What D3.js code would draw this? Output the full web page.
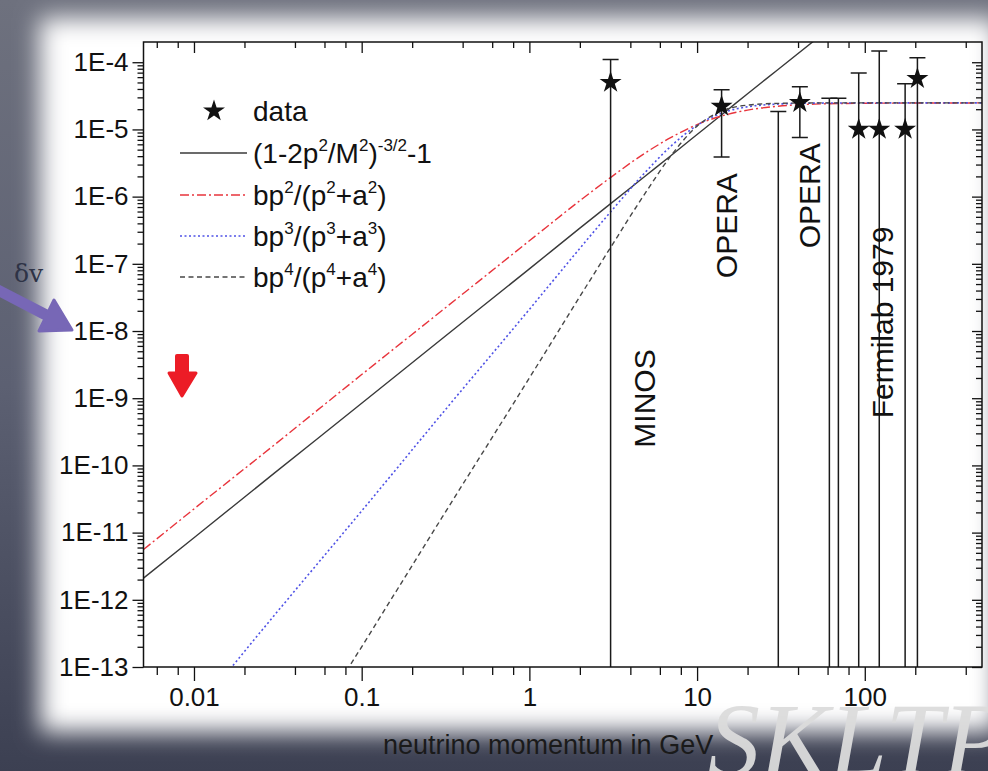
<!DOCTYPE html>
<html>
<head>
<meta charset="utf-8">
<script src="https://cdn.jsdelivr.net/npm/d3@7"></script>
<style>
  body { margin: 0; background: #5a5e6e; }
  svg { display: block; font-family: "Liberation Sans", Arial, sans-serif; }
</style>
</head>
<body>
<div id="chart"></div>
<script>
// curves: momentum (GeV) -> delta v
const momentum = [0.005, 0.01, 0.03, 0.1, 0.3, 1, 2, 3, 5, 7, 10, 15, 20, 30, 50, 100, 200, 500];
const lorentzCurve = [2.1e-12, 8.4e-12, 7.6e-11, 8.4e-10, 7.6e-9, 8.4e-8, 3.4e-7, 7.6e-7, 2.1e-6, 4.1e-6, 8.4e-6, 1.9e-5, 3.4e-5, 7.6e-5, 2.1e-4, 8.4e-4, 3.4e-3, 2.1e-2];
const fitP2 = [5.6e-12, 2.25e-11, 2.0e-10, 2.25e-9, 2.0e-8, 2.2e-7, 8.7e-7, 1.87e-6, 4.6e-6, 7.6e-6, 1.18e-5, 1.66e-5, 1.94e-5, 2.21e-5, 2.38e-5, 2.45e-5, 2.47e-5, 2.48e-5];
const fitP3 = [2.7e-15, 2.1e-14, 5.8e-13, 2.1e-11, 5.8e-10, 2.1e-8, 1.7e-7, 5.65e-7, 2.42e-6, 5.67e-6, 1.15e-5, 1.85e-5, 2.17e-5, 2.38e-5, 2.46e-5, 2.48e-5, 2.48e-5, 2.48e-5];
const fitP4 = [1.3e-18, 2.0e-17, 1.65e-15, 2.0e-13, 1.65e-11, 2.0e-9, 3.26e-8, 1.64e-7, 1.21e-6, 4.09e-6, 1.12e-5, 2.0e-5, 2.3e-5, 2.44e-5, 2.48e-5, 2.48e-5, 2.48e-5, 2.48e-5];

// measurements (null lower = bar runs off the bottom of the plot)
const dataMomentum = [3.05, 14, 41, 92, 122, 174, 206];
const dataDv = [5.0e-5, 2.2e-5, 2.5e-5, 1.0e-5, 1.0e-5, 1.0e-5, 5.7e-5];
const dataUpper = [1.1e-4, 3.9e-5, 4.3e-5, 6.9e-5, 1.47e-4, 4.8e-5, 1.17e-4];
const dataLower = [null, 3.9e-6, 7.6e-6, null, null, null, null];
// bars with no visible point
const limitMomentum = [30.5, 61.5, 69.6];
const limitUpper = [1.85e-5, 2.92e-5, 2.92e-5];

const xMajor = [0.01, 0.1, 1, 10, 100];
const xLabels = ["0.01", "0.1", "1", "10", "100"];
const yMajor = [1e-13, 1e-12, 1e-11, 1e-10, 1e-9, 1e-8, 1e-7, 1e-6, 1e-5, 1e-4];
const yLabels = ["1E-13", "1E-12", "1E-11", "1E-10", "1E-9", "1E-8", "1E-7", "1E-6", "1E-5", "1E-4"];

const expLabels = ["MINOS", "OPERA", "OPERA", "Fermilab 1979"];
const expMomentum = [5.6, 17.4, 54, 148];
const expDv = [9.9e-10, 3.7e-7, 1.03e-6, 1.34e-8];

// legend text pieces: [text, superscript?]
const legendLabels = [
    [["data", 0]],
    [["(1-2p", 0], ["2", 1], ["/M", 0], ["2", 1], [")", 0], ["-3/2", 1], ["-1", 0]],
    [["bp", 0], ["2", 1], ["/(p", 0], ["2", 1], ["+a", 0], ["2", 1], [")", 0]],
    [["bp", 0], ["3", 1], ["/(p", 0], ["3", 1], ["+a", 0], ["3", 1], [")", 0]],
    [["bp", 0], ["4", 1], ["/(p", 0], ["4", 1], ["+a", 0], ["4", 1], [")", 0]]
];

const W = 988, H = 771;
const margin = { top: 42, right: 6, bottom: 104, left: 143.5 };

const svg = d3.select('#chart').append('svg')
    .attr('width', W).attr('height', H);

// slide background
const defs = svg.append('defs');
defs.append('filter').attr('id', 'soft').attr('x', '-10%').attr('y', '-10%')
    .attr('width', '120%').attr('height', '120%')
    .append('feGaussianBlur').attr('stdDeviation', 12);
const bg = defs.append('linearGradient').attr('id', 'bg').attr('x1', 0).attr('y1', 0).attr('x2', 0).attr('y2', 1);
bg.append('stop').attr('offset', 0).attr('stop-color', '#6e717e');
bg.append('stop').attr('offset', 0.5).attr('stop-color', '#5c6072');
bg.append('stop').attr('offset', 1).attr('stop-color', '#3c4052');
svg.append('rect').attr('width', W).attr('height', H).attr('fill', 'url(#bg)');
svg.append('rect').attr('x', 40).attr('y', 18).attr('width', 958).attr('height', 714)
    .attr('fill', '#ffffff').attr('filter', 'url(#soft)');

const x = d3.scaleLog().domain([0.005, 500]).range([margin.left, W - margin.right]);
const y = d3.scaleLog().domain([1e-13, 2e-4]).range([H - margin.bottom, margin.top]);

const x0 = x.range()[0], x1 = x.range()[1], y0 = y.range()[0], y1 = y.range()[1];

const xMinor = [];
[0.001, 0.01, 0.1, 1, 10, 100].forEach(d => [2, 4, 6, 8].forEach(k => {
    const v = d * k;
    if (v > 0.005 && v < 500) xMinor.push(v);
}));
const yMinor = [];
yMajor.concat([1e-14]).forEach(d => d3.range(2, 10).forEach(k => {
    const v = d * k;
    if (v > 1e-13 && v < 2e-4) yMinor.push(v);
}));

const axes = svg.append('g').attr('class', 'axes');
const fmt = (labels, majors) => d => labels[majors.indexOf(d)];

axes.append('g').attr('transform', `translate(0,${y0})`)
    .call(d3.axisBottom(x).tickValues(xMajor).tickFormat(fmt(xLabels, xMajor)).tickSize(14).tickPadding(7));
axes.append('g').attr('transform', `translate(0,${y0})`)
    .call(d3.axisBottom(x).tickValues(xMinor).tickFormat('').tickSize(8));
axes.append('g').attr('transform', `translate(0,${y1})`)
    .call(d3.axisBottom(x).tickValues(xMajor).tickFormat('').tickSize(11));
axes.append('g').attr('transform', `translate(0,${y1})`)
    .call(d3.axisBottom(x).tickValues(xMinor).tickFormat('').tickSize(6));
axes.append('g').attr('transform', `translate(${x0},0)`)
    .call(d3.axisLeft(y).tickValues(yMajor).tickFormat(fmt(yLabels, yMajor)).tickSize(11).tickPadding(4));
axes.append('g').attr('transform', `translate(${x0},0)`)
    .call(d3.axisLeft(y).tickValues(yMinor).tickFormat('').tickSize(6));
axes.append('g').attr('transform', `translate(${x1},0)`)
    .call(d3.axisLeft(y).tickValues(yMajor).tickFormat('').tickSize(10));
axes.append('g').attr('transform', `translate(${x1},0)`)
    .call(d3.axisLeft(y).tickValues(yMinor).tickFormat('').tickSize(6));

axes.selectAll('.domain').remove();
axes.selectAll('.tick line').attr('stroke', '#111').attr('stroke-width', 1.3);
axes.selectAll('.tick text').attr('font-size', 26).attr('fill', '#111')
    .attr('font-family', '"Liberation Sans", Arial, sans-serif');

// plot content
defs.append('clipPath').attr('id', 'plot').append('rect')
    .attr('x', x0).attr('y', y1).attr('width', x1 - x0).attr('height', y0 - y1);
const chartArea = svg.append('g').attr('clip-path', 'url(#plot)');

const curves = [
    { values: lorentzCurve, color: '#3a3a3a', dash: null, width: 1.4 },
    { values: fitP2, color: '#e8343c', dash: '9,3,2,3', width: 1.4 },
    { values: fitP3, color: '#4f52e6', dash: '2,2.5', width: 1.6 },
    { values: fitP4, color: '#474747', dash: '5,3.5', width: 1.4 }
];
const line = d3.line().x(d => x(d[0])).y(d => y(d[1])).curve(d3.curveMonotoneX);

chartArea.selectAll('path.curve').data(curves).join('path')
    .attr('class', 'curve')
    .attr('fill', 'none')
    .attr('stroke', d => d.color)
    .attr('stroke-width', d => d.width)
    .attr('stroke-dasharray', d => d.dash)
    .attr('d', d => line(momentum.map((p, i) => [p, d.values[i]])));

// error bars
const bars = dataMomentum.map((p, i) => ({ p: p, up: dataUpper[i], low: dataLower[i] }))
    .concat(limitMomentum.map((p, i) => ({ p: p, up: limitUpper[i], low: null })));
const capW = 8;
const barG = chartArea.append('g').attr('stroke', '#1a1a1a').attr('stroke-width', 1.5);
bars.forEach(b => {
    const bx = x(b.p);
    const top = y(b.up);
    const bottom = b.low === null ? y0 + 2 : y(b.low);
    barG.append('line').attr('x1', bx).attr('x2', bx).attr('y1', top).attr('y2', bottom);
    barG.append('line').attr('x1', bx - capW).attr('x2', bx + capW).attr('y1', top).attr('y2', top);
    if (b.low !== null)
        barG.append('line').attr('x1', bx - capW).attr('x2', bx + capW).attr('y1', bottom).attr('y2', bottom);
});

const star = d3.symbol().type(d3.symbolStar).size(150);
chartArea.selectAll('path.star').data(dataMomentum).join('path')
    .attr('class', 'star')
    .attr('d', star)
    .attr('fill', '#111')
    .attr('transform', (d, i) => `translate(${x(d)},${y(dataDv[i])})`);

// frame
svg.append('rect').attr('x', x0).attr('y', y1).attr('width', x1 - x0).attr('height', y0 - y1)
    .attr('fill', 'none').attr('stroke', '#111').attr('stroke-width', 1.5);

// experiment labels
svg.selectAll('text.exp').data(expLabels).join('text')
    .attr('class', 'exp')
    .attr('text-anchor', 'middle')
    .attr('font-size', 30)
    .attr('fill', '#111')
    .attr('transform', (d, i) => `translate(${x(expMomentum[i])},${y(expDv[i])}) rotate(-90)`)
    .text(d => d);

// legend
const legend = svg.append('g').attr('class', 'legend');
const rowY = [111, 153, 195, 236, 277];
legend.append('path').attr('d', star).attr('fill', '#111')
    .attr('transform', `translate(214,${rowY[0]})`);
curves.forEach((c, i) => {
    legend.append('line')
        .attr('x1', 180).attr('x2', 247)
        .attr('y1', rowY[i + 1]).attr('y2', rowY[i + 1])
        .attr('stroke', c.color).attr('stroke-width', c.width)
        .attr('stroke-dasharray', c.dash);
});
legendLabels.forEach((parts, i) => {
    const t = legend.append('text')
        .attr('x', 253).attr('y', rowY[i] + 10)
        .attr('font-size', 28).attr('fill', '#111');
    let raised = false;
    parts.forEach(([s, sup]) => {
        const ts = t.append('tspan').text(s);
        if (sup && !raised) { ts.attr('dy', -12).attr('font-size', 17); raised = true; }
        else if (sup) { ts.attr('font-size', 17); }
        else if (raised) { ts.attr('dy', 12); raised = false; }
    });
});

// axis title (its end sits under the watermark, as in the slide)
svg.append('text').attr('x', 383).attr('y', 754)
    .attr('font-size', 27).attr('fill', '#1a1a1a')
    .text('neutrino momentum in GeV');

// slide decorations
svg.append('text').attr('x', 14).attr('y', 282)
    .attr('font-size', 25).attr('fill', '#2e3346')
    .attr('font-family', '"DejaVu Serif", serif')
    .text('δv');
svg.append('line').attr('x1', -4).attr('y1', 289).attr('x2', 48).attr('y2', 316)
    .attr('stroke', '#7767b6').attr('stroke-width', 11);
svg.append('polygon').attr('points', '72,330 39,331 54,300')
    .attr('fill', '#7767b6').attr('stroke', '#7767b6').attr('stroke-width', 3)
    .attr('stroke-linejoin', 'round');
svg.append('rect').attr('x', 175).attr('y', 354).attr('width', 14).attr('height', 21)
    .attr('rx', 2).attr('fill', '#ec1c26');
svg.append('polygon').attr('points', '169,373 196,373 182,396')
    .attr('fill', '#ec1c26').attr('stroke', '#ec1c26').attr('stroke-width', 3)
    .attr('stroke-linejoin', 'round');

svg.append('text').attr('x', 708).attr('y', 775)
    .attr('font-size', 104).attr('font-style', 'italic')
    .attr('font-family', '"Liberation Serif", "Times New Roman", serif')
    .attr('fill', '#dcdcdc').attr('opacity', 0.95)
    .text('SKLTP');
</script>
</body>
</html>
